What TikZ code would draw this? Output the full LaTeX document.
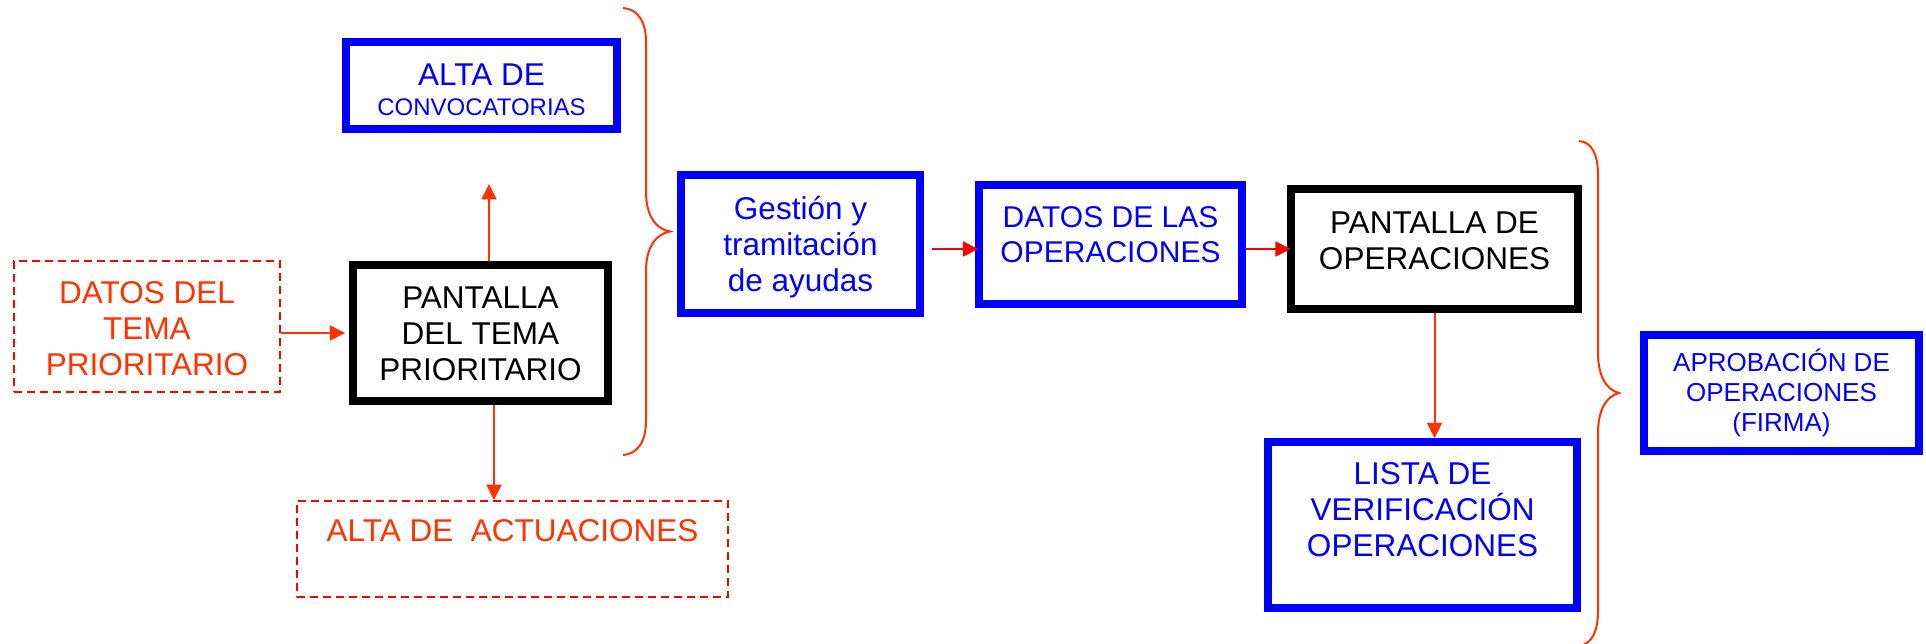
\documentclass[tikz,border=0pt]{standalone}
\usepackage{fontspec}
\setmainfont{Liberation Sans}
\usetikzlibrary{arrows.meta}
\definecolor{bl}{RGB}{0,0,255}
\definecolor{ored}{RGB}{255,51,0}
\definecolor{rd}{RGB}{255,0,0}
\begin{document}
\begin{tikzpicture}[x=1pt,y=-1pt,
  blk/.style={draw=black, line width=7.5pt, inner sep=0pt},
  blu/.style={draw=bl, line width=7.5pt, inner sep=0pt},
  dsh/.style={draw=rd, line width=1.6pt, dash pattern=on 8pt off 5pt, inner sep=0pt},
  txt/.style={align=center, inner sep=0pt, font=\fontsize{31.5}{36}\selectfont},
  arr/.style={-{Triangle[length=15.5pt,width=15pt]}, line width=2pt},
  brc/.style={draw=ored, line width=2pt}]
\fill[white] (0,0) rectangle (1926,644);
\useasboundingbox (0,0) rectangle (1926,644);

% left group
\node[blu, minimum width=271pt, minimum height=87pt] (conv) at (481.5,85.5) {};
\node[txt, text=bl] (convt) at (481.5,90) {ALTA DE\\[-6pt]{\fontsize{24}{28}\selectfont CONVOCATORIAS}};
\node[blk, minimum width=255pt, minimum height=136pt] (pt) at (480.5,333) {};
\node[txt] (ptt) at (480.5,334) {PANTALLA\\DEL TEMA\\PRIORITARIO};
\node[dsh, minimum width=266pt, minimum height=131pt] (dt) at (147,326.5) {};
\node[txt, text=ored] (dtt) at (147,328.5) {DATOS DEL\\TEMA\\PRIORITARIO};
\node[dsh, minimum width=431pt, minimum height=96pt] (act) at (512.5,549) {};
\node[txt, text=ored] (actt) at (512.5,531) {ALTA DE\ \ ACTUACIONES};

\coordinate (upend) at (489,184);
\coordinate (dnx) at (494,0);
\draw[arr, ored] (pt.north -| upend) -- (upend);
\draw[arr, ored] (pt.south -| dnx) -- (act.north -| dnx);
\draw[arr, ored, shorten >=4pt] (pt.west -| dt.east) -- (pt.west);

% brace 1
\draw[brc] (623,8) .. controls (638,9) and (646,22) .. (646,42) -- (646,192)
  .. controls (646,216) and (656,229) .. (670,231.5)
  .. controls (656,234) and (646,247) .. (646,271) -- (646,421)
  .. controls (646,441) and (638,454) .. (623,455);

% middle
\node[blu, minimum width=239pt, minimum height=138pt] (ges) at (800.5,244) {};
\node[txt, text=bl] (gest) at (800.5,247.5) {Gestión y\\tramitación\\de ayudas};
\node[blu, minimum width=263pt, minimum height=119pt] (dops) at (1110.5,244.5) {};
\node[txt, text=bl, font=\fontsize{30}{35}\selectfont] (dopst) at (1110.5,234.5) {DATOS DE LAS\\OPERACIONES};
\node[blk, minimum width=287pt, minimum height=120pt] (pops) at (1434.5,249) {};
\node[txt] (popst) at (1434.5,241) {PANTALLA DE\\OPERACIONES};
\node[blu, minimum width=309pt, minimum height=166pt] (lis) at (1422.5,525) {};
\node[txt, text=bl] (list) at (1422.5,509.5) {LISTA DE\\VERIFICACIÓN\\OPERACIONES};

\coordinate (ya) at (0,249);
\draw[arr, rd, shorten <=8pt, shorten >=-3pt] (ges.east |- ya) -- (dops.west |- ya);
\draw[arr, rd, shorten >=-3.5pt] (dops.east |- ya) -- (pops.west |- ya);
\draw[arr, ored] (pops.south) -- (lis.north -| pops.south);

% brace 2
\draw[brc] (1579,141) .. controls (1592,142) and (1598,155) .. (1598,175) -- (1598,353)
  .. controls (1598,377) and (1607,390) .. (1619,393)
  .. controls (1607,396) and (1598,409) .. (1598,433) -- (1598,611)
  .. controls (1598,631) and (1592,644) .. (1579,646);

% right
\node[blu, txt, text=bl, font=\fontsize{26}{30}\selectfont, minimum width=275pt, minimum height=116pt] (apr) at (1781.5,393) {APROBACIÓN DE\\OPERACIONES\\(FIRMA)};
\end{tikzpicture}
\end{document}
